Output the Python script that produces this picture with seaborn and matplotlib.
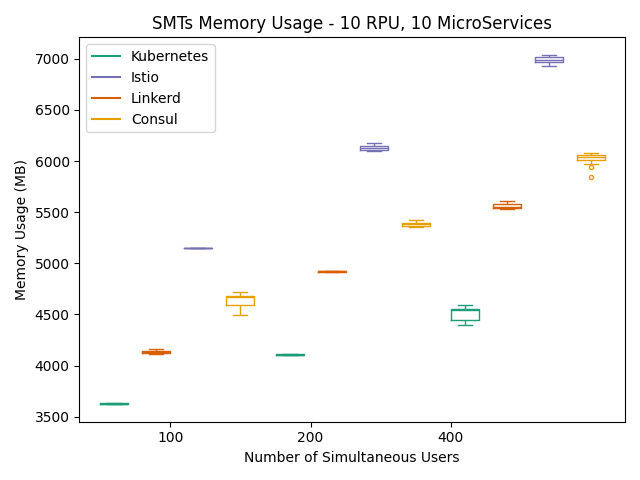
import pandas as pd
import seaborn as sns
import matplotlib
matplotlib.use("Agg")
import matplotlib.pyplot as plt
from matplotlib.lines import Line2D

# users groups and meshes
users = [100, 200, 400]
meshes = ["Kubernetes", "Istio", "Linkerd", "Consul"]
box_order = ["Kubernetes", "Linkerd", "Istio", "Consul"]   # left-to-right order inside a group
colors = {"Kubernetes": "#1b9e77", "Istio": "#7570b3",
          "Linkerd": "#d95f02", "Consul": "#e69f00"}

# memory samples (MB)
kube_100 = [3622, 3626, 3628, 3630, 3634]
kube_200 = [4102, 4105, 4107, 4109, 4112]
kube_400 = [4400, 4442, 4545, 4549, 4588]
istio_100 = [5146, 5148, 5150, 5151, 5153]
istio_200 = [6100, 6104, 6127, 6147, 6179]
istio_400 = [6932, 6968, 6990, 7017, 7039]
linkerd_100 = [4112, 4125, 4133, 4143, 4158]
linkerd_200 = [4917, 4919, 4921, 4923, 4925]
linkerd_400 = [5532, 5540, 5555, 5578, 5610]
consul_100 = [4494, 4592, 4667, 4683, 4722]
consul_200 = [5355, 5361, 5385, 5397, 5419]
consul_400 = [5846, 5941, 5971, 6012, 6020, 6030, 6040, 6045,
              6052, 6058, 6065, 6072, 6078]

samples = {
    "Kubernetes": [kube_100, kube_200, kube_400],
    "Istio": [istio_100, istio_200, istio_400],
    "Linkerd": [linkerd_100, linkerd_200, linkerd_400],
    "Consul": [consul_100, consul_200, consul_400],
}

rows = []
for g, u in enumerate(users):
    for m in meshes:
        pos = round(g * 2.5 + box_order.index(m) * 0.6 + 0.2, 2)
        for v in samples[m][g]:
            rows.append({"users": u, "mesh": m, "pos": pos, "memory": v})
df = pd.DataFrame(rows)

fig, ax = plt.subplots(figsize=(6.4, 4.8), dpi=100)
sns.boxplot(data=df, x="pos", y="memory", hue="mesh", hue_order=meshes,
            palette=colors, native_scale=True, dodge=False, fill=False,
            width=0.4 / 0.6, linewidth=1, legend=False, ax=ax,
            flierprops={"marker": "o", "markersize": 3})

ax.set_xticks([1, 3, 5])
ax.set_xticklabels([str(u) for u in users])
ax.set_xlim(-0.3, 7.49)
ax.set_xlabel("Number of Simultaneous Users")
ax.set_ylabel("Memory Usage (MB)")
ax.set_title("SMTs Memory Usage - 10 RPU, 10 MicroServices")

handles = [Line2D([0], [0], color=colors[m], lw=1.5) for m in meshes]
ax.legend(handles, meshes, loc="upper left")

plt.tight_layout()
plt.savefig("out.png")
